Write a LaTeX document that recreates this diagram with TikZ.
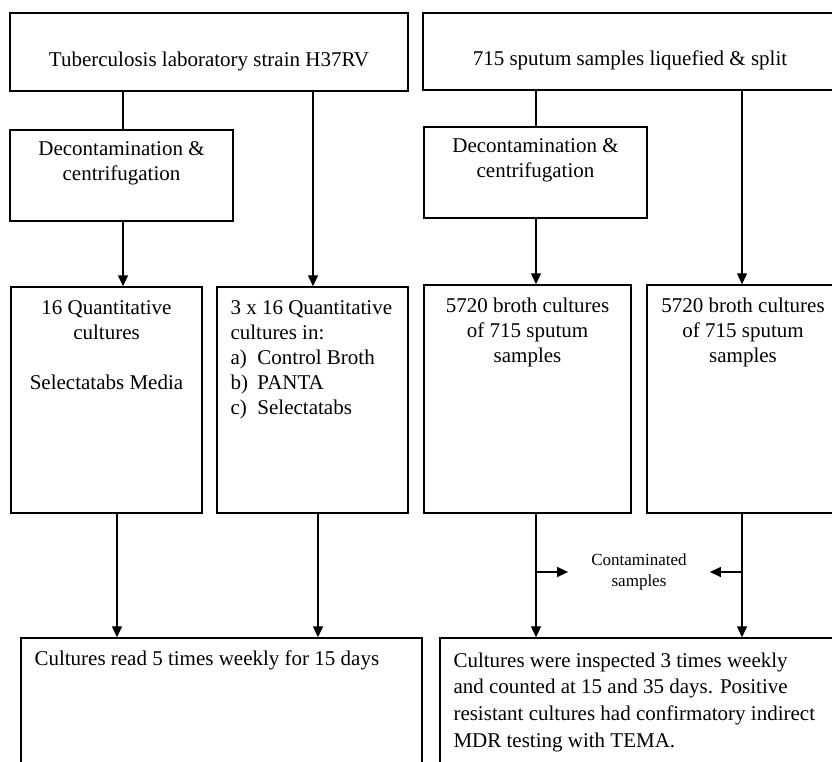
\documentclass[tikz,border=0pt]{standalone}
\usepackage{fontspec}
\setmainfont{Liberation Serif}
\usetikzlibrary{positioning,arrows.meta}

\begin{document}
\begin{tikzpicture}[x=1pt,y=-1pt,
    box/.style={draw,line width=1.4pt,inner sep=0pt},
    txt/.style={inner sep=0pt,font=\fontsize{21}{25}\selectfont},
    ln/.style={line width=1.3pt},
    arr/.style={ln,-{Triangle[length=11pt,width=10pt]}}]
  \useasboundingbox (0,0) rectangle (832,761);
  \clip (0,0) rectangle (832,761);
  % columns of the connectors
  \coordinate (colA) at (123,0);
  \coordinate (colB) at (313,0);
  \coordinate (colC) at (117,0);
  \coordinate (colD) at (318,0);
  \coordinate (colE) at (536,0);
  \coordinate (colF) at (742,0);
  % boxes
  \node[box,minimum width=398pt,minimum height=78pt] (strain) at (209,52) {};
  \node[box,minimum width=414pt,minimum height=77pt] (sputum) at (630,51.5) {};
  \node[box,minimum width=223pt,minimum height=91pt] (decA) at (121.5,175.5) {};
  \node[box,minimum width=223pt,minimum height=91pt] (decB) at (535.5,172.5) {};
  \node[box,minimum width=191pt,minimum height=226pt] (quant) at (106.5,400) {};
  \node[box,minimum width=191pt,minimum height=226pt] (quantx) at (312.5,400) {};
  \node[box,minimum width=207pt,minimum height=228pt] (brothA) at (527.5,399) {};
  \node[box,minimum width=192pt,minimum height=228pt] (brothB) at (743,399) {};
  \node[box,minimum width=401pt,minimum height=162pt] (read) at (221.5,719) {};
  \node[box,minimum width=420pt,minimum height=162pt] (insp) at (650,719) {};
  % texts
  \node[txt] at ([yshift=-9pt]strain.center) {Tuberculosis laboratory strain H37RV};
  \node[txt] at ([yshift=-9pt]sputum.center) {715 sputum samples liquefied \& split};
  \node[txt,align=center,below=12pt of decA.north] {Decontamination \&\\centrifugation};
  \node[txt,align=center,below=12pt of decB.north] {Decontamination \&\\centrifugation};
  \node[txt,align=center,below=14pt of quant.north] {16 Quantitative\\cultures\\[25pt]Selectatabs Media};
  \node[txt,align=left,anchor=north west] at ([xshift=14pt,yshift=-14pt]quantx.north west)
    {3 x 16 Quantitative\\cultures in:\\\makebox[27pt][l]{a)}Control Broth\\
     \makebox[27pt][l]{b)}PANTA\\\makebox[27pt][l]{c)}Selectatabs};
  \node[txt,align=center,below=13pt of brothA.north] {5720 broth cultures\\of 715 sputum\\samples};
  \node[txt,align=center,below=13pt of brothB.north] {5720 broth cultures\\of 715 sputum\\samples};
  \node[txt,anchor=north west] at ([xshift=14pt,yshift=-13pt]read.north west)
    {Cultures read 5 times weekly for 15 days};
  \node[txt,align=left,anchor=north west,font=\fontsize{21}{26.7}\selectfont]
    at ([xshift=14pt,yshift=-15pt]insp.north west)
    {Cultures were inspected 3 times weekly\\and counted at 15 and 35 days. Positive\\
     resistant cultures had confirmatory indirect\\MDR testing with TEMA.};
  \node[align=center,inner xsep=23pt,inner ysep=0pt,font=\fontsize{17}{21}\selectfont]
    (cont) at (639,572) {Contaminated\\samples};
  % connectors
  \draw[ln] (strain.south -| colA) -- (decA.north -| colA);
  \draw[arr] (decA.south -| colA) -- (quant.north -| colA);
  \draw[arr] (strain.south -| colB) -- (quantx.north -| colB);
  \draw[arr] (quant.south -| colC) -- (read.north -| colC);
  \draw[arr] (quantx.south -| colD) -- (read.north -| colD);
  \draw[ln] (sputum.south -| colE) -- (decB.north -| colE);
  \draw[arr] (decB.south -| colE) -- (brothA.north -| colE);
  \draw[arr] (sputum.south -| colF) -- (brothB.north -| colF);
  \draw[arr] (brothA.south -| colE) -- (insp.north -| colE);
  \draw[arr] (brothB.south -| colF) -- (insp.north -| colF);
  \draw[arr] (cont.west -| colE) -- (cont.west);
  \draw[arr] (cont.east -| colF) -- (cont.east);
\end{tikzpicture}
\end{document}
